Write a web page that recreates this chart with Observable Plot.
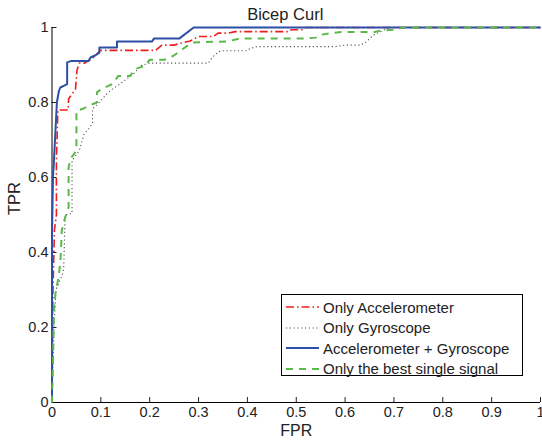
<!DOCTYPE html>
<html><head><meta charset="utf-8">
<script src="https://cdn.jsdelivr.net/npm/d3@7"></script>
<script src="https://cdn.jsdelivr.net/npm/@observablehq/plot@0.6"></script>
<style>
body{margin:0;background:#fff;font-family:"Liberation Sans",Arial,sans-serif}
#wrap{position:relative;width:542px;height:441px}
#legend{position:absolute;left:281px;top:294px;width:242px;height:82px;border:1px solid #000;background:#fff;box-sizing:border-box}
.row{position:absolute;left:0;height:20px;display:flex;align-items:center;font-size:15px;color:#222}
.row svg{margin-left:4px;margin-right:4px}
</style></head><body><div id="wrap"></div>
<script>
const title = "Bicep Curl";
const xLabel = "FPR";
const yLabel = "TPR";
const xTicks = [0,0.1,0.2,0.3,0.4,0.5,0.6,0.7,0.8,0.9,1];
const yTicks = [0,0.2,0.4,0.6,0.8,1];
const seriesNames = ["Only Accelerometer","Only Gyroscope","Accelerometer + Gyroscope","Only the best single signal"];

const fprAcc = [0,0.002,0.005,0.009,0.009,0.012,0.033,0.034,0.048,0.051,0.054,0.056,0.067,0.085,0.096,0.098,0.212,0.225,0.25,0.263,0.283,0.3,0.33,0.34,0.36,0.375,0.484,0.49,0.514,0.52,1];
const tprAcc = [0,0.3,0.46,0.5,0.645,0.78,0.78,0.81,0.835,0.885,0.898,0.905,0.905,0.92,0.935,0.939,0.939,0.953,0.953,0.958,0.964,0.976,0.976,0.985,0.985,0.989,0.989,0.994,0.994,1,1];

const fprGyro = [0,0.004,0.008,0.022,0.024,0.027,0.041,0.041,0.056,0.066,0.075,0.083,0.083,0.089,0.1,0.11,0.123,0.14,0.16,0.17,0.18,0.2,0.32,0.328,0.335,0.345,0.4,0.405,0.42,0.58,0.6,0.63,0.64,0.645,0.658,0.67,0.69,1];
const tprGyro = [0,0.2,0.3,0.344,0.36,0.5,0.504,0.645,0.672,0.717,0.73,0.744,0.784,0.79,0.805,0.82,0.835,0.85,0.87,0.88,0.898,0.905,0.905,0.92,0.929,0.938,0.938,0.944,0.949,0.949,0.953,0.953,0.958,0.964,0.98,0.987,1,1];

const fprBoth = [0,0,0.002,0.004,0.01,0.014,0.017,0.025,0.031,0.031,0.04,0.075,0.079,0.089,0.097,0.097,0.133,0.133,0.205,0.209,0.261,0.29,1];
const tprBoth = [0,0.45,0.6,0.645,0.8,0.83,0.84,0.845,0.849,0.907,0.911,0.911,0.92,0.926,0.933,0.947,0.947,0.963,0.963,0.971,0.971,1,1];

const fprBest = [0,0.002,0.004,0.007,0.012,0.017,0.019,0.02,0.027,0.034,0.034,0.038,0.05,0.05,0.065,0.074,0.092,0.092,0.1,0.123,0.136,0.16,0.17,0.19,0.2,0.23,0.248,0.267,0.287,0.36,0.385,0.52,0.54,0.547,0.573,0.595,0.66,0.67,0.7,0.72,1];
const tprBest = [0,0.1,0.245,0.29,0.325,0.37,0.424,0.459,0.494,0.52,0.627,0.65,0.672,0.778,0.784,0.791,0.8,0.827,0.835,0.849,0.871,0.871,0.889,0.898,0.914,0.914,0.924,0.942,0.96,0.963,0.971,0.971,0.973,0.98,0.985,0.988,0.988,0.991,0.994,1,1];

const styles = [
  {stroke:"#ee1c1c", strokeWidth:1.6, strokeDasharray:"8,3,1.5,3"},
  {stroke:"#555555", strokeWidth:1.1, strokeDasharray:"1.2,2.6"},
  {stroke:"#2f4fa6", strokeWidth:2, strokeDasharray:null},
  {stroke:"#5cb84a", strokeWidth:2, strokeDasharray:"7,6"}
];
const fprs = [fprAcc,fprGyro,fprBoth,fprBest];
const tprs = [tprAcc,tprGyro,tprBoth,tprBest];
const seriesData = seriesNames.map((name,i)=>fprs[i].map((f,j)=>({fpr:f,tpr:tprs[i][j],series:name})));

const font = "Liberation Sans, Arial, sans-serif";
const chart = Plot.plot({
  width:542, height:441,
  marginLeft:51.5, marginRight:2, marginTop:27, marginBottom:39,
  style:{fontFamily:font, fontSize:"14.5px", color:"#222", background:"#fff", overflow:"visible"},
  x:{domain:[0,1]}, y:{domain:[0,1]},
  marks:[
    Plot.axisX({ticks:xTicks, tickSize:-5, tickPadding:9.5, tickFormat:d=>String(d), label:null, fontSize:14.5}),
    Plot.axisY({ticks:yTicks, tickSize:-5, tickPadding:8.5, tickFormat:d=>String(d), label:null, fontSize:14.5}),
    Plot.ruleX([0],{stroke:"#000"}),
    Plot.ruleY([0],{stroke:"#000"}),
    ...seriesData.map((d,i)=>Plot.line(d,{x:"fpr", y:"tpr", ...styles[i], strokeLinejoin:"round", strokeLinecap:"butt"})),
    Plot.text([xLabel],{frameAnchor:"bottom", dy:33, fontSize:16, fill:"#222"}),
    Plot.text([yLabel],{frameAnchor:"left", rotate:-90, dx:-37, fontSize:16.5, fill:"#222"}),
    Plot.text([title],{frameAnchor:"top", dy:-19, dx:-11, fontSize:16.5, fill:"#222"})
  ]
});
const wrap = document.getElementById("wrap");
wrap.appendChild(chart);

const legend = document.createElement("div");
legend.id = "legend";
seriesNames.forEach((name,i)=>{
  const row = document.createElement("div");
  row.className = "row";
  row.style.top = (2 + i*20.5) + "px";
  const s = styles[i];
  row.innerHTML = `<svg width="33" height="10"><line x1="0" y1="5" x2="33" y2="5" stroke="${s.stroke}" stroke-width="${s.strokeWidth}" ${s.strokeDasharray?`stroke-dasharray="${s.strokeDasharray}"`:""}/></svg><span>${name}</span>`;
  legend.appendChild(row);
});
wrap.appendChild(legend);
</script></body></html>
